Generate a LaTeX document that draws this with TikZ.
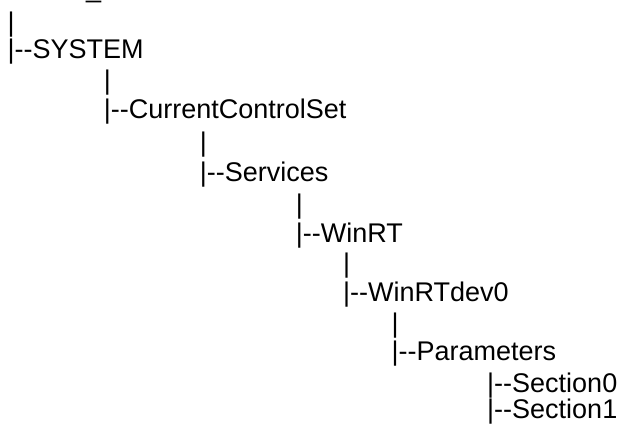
\documentclass[tikz,border=0pt]{standalone}
\usepackage{fontspec}
\setmainfont{Liberation Sans}
\newcommand\brc{|-{}-}
\begin{document}
\begin{tikzpicture}[x=1pt,y=1pt,
  treeline/.style={anchor=base west, inner sep=0pt, outer sep=0pt, font=\fontsize{27}{30}\selectfont}]
\useasboundingbox (0,0) rectangle (617,-428);
\clip (0,0) rectangle (617,-428);
\node[treeline] (root)  at (86,2.8)        {\_};
\node[treeline] (v1)    at (7.5,-31.7)     {|};
\node[treeline] (sys)   at (7.5,-58.7)     {\brc SYSTEM};
\node[treeline] (v2)    at (103.8,-89.7)   {|};
\node[treeline] (ccs)   at (103.8,-118.7)  {\brc CurrentControlSet};
\node[treeline] (v3)    at (199.8,-151.7)  {|};
\node[treeline] (svc)   at (199.8,-181.7)  {\brc Services};
\node[treeline] (v4)    at (295.8,-213.7)  {|};
\node[treeline] (wrt)   at (295.8,-242.7)  {\brc WinRT};
\node[treeline] (v5)    at (343.2,-272.7)  {|};
\node[treeline] (dev)   at (343.2,-301.7)  {\brc WinRTdev0};
\node[treeline] (v6)    at (391.5,-332.7)  {|};
\node[treeline] (par)   at (391.5,-360.7)  {\brc Parameters};
\node[treeline] (sec0)  at (487.2,-392.7)  {\brc Section0};
\node[treeline] (sec1)  at (487.2,-418.7)  {\brc Section1};
\end{tikzpicture}
\end{document}
